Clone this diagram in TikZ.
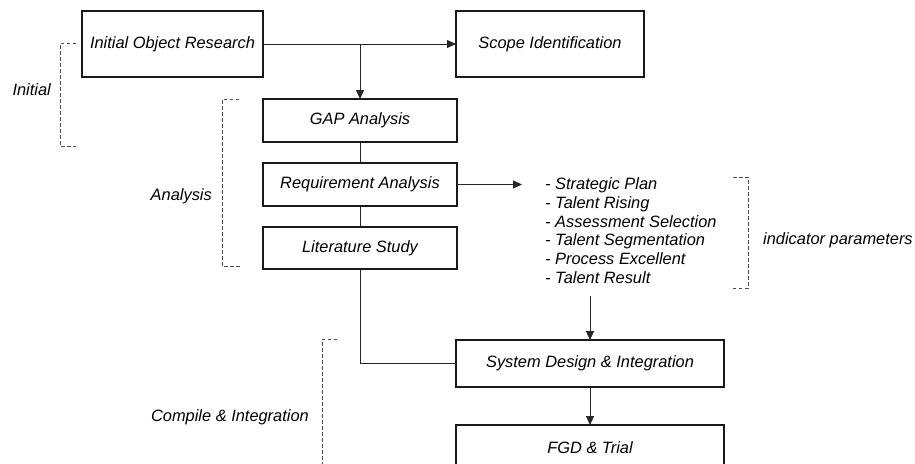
\documentclass[tikz,border=0pt]{standalone}
\usepackage{fontspec}
\setmainfont{Liberation Sans}
\usepackage{tikz}
\usetikzlibrary{positioning, arrows.meta, calc}
\tikzset{
  block/.style={rectangle, draw=black!90, line width=1.1pt, outer sep=0pt, align=center, font=\fontsize{16.4}{18.8}\selectfont\itshape},
  lbl/.style={inner sep=0pt, font=\fontsize{16.4}{18.8}\selectfont\itshape},
  arrow/.style={line width=0.9pt, draw=black!85, -{Triangle[length=9pt,width=8pt]}},
  line/.style={line width=1pt, draw=black!85},
  bracket/.style={line width=0.9pt, draw=black!70, dash pattern=on 3.5pt off 2.5pt}
}

\begin{document}
\begin{tikzpicture}[x=1pt, y=1pt]
        \useasboundingbox (0,0) rectangle (915,-463);
        \clip (0,0) rectangle (915,-463);

        % Top row
        \node (initres) [block, minimum width=181pt, minimum height=66pt] at (172.5,-44) {Initial Object Research};
        \node (scope) [block, minimum width=188pt, minimum height=66pt, right=193pt of initres] {Scope Identification};

        % Analysis column
        \node (gap) [block, minimum width=194pt, minimum height=43pt, anchor=north west] at ($(initres.south east)+(0,-22)$) {GAP Analysis};
        \node (req) [block, minimum width=194pt, minimum height=43pt, below=21pt of gap] {Requirement Analysis};
        \node (lit) [block, minimum width=194pt, minimum height=42pt, below=21pt of req] {Literature Study};

        % Indicator list
        \node (params) [lbl, align=left, anchor=north west] at (545,-177.5) {- Strategic Plan\\- Talent Rising\\- Assessment Selection\\- Talent Segmentation\\- Process Excellent\\- Talent Result};

        % Design and trial
        \node (sysd) [block, minimum width=268pt, minimum height=47pt] at (590,-363.5) {System Design \& Integration};
        \node (fgd) [block, minimum width=268pt, minimum height=46pt, below=38pt of sysd] {FGD \& Trial};

        % Connections
        \draw [arrow] (initres.east) -- (scope.west);
        \draw [arrow] (initres.east -| gap.north) -- (gap.north);
        \draw [line] (gap) -- (req);
        \draw [line] (req) -- (lit);
        \draw [arrow, shorten >=23pt] (req.east) -- (req.east -| params.west);
        \draw [arrow] ([yshift=-12pt]params.south -| sysd.north) -- (sysd.north);
        \draw [line] (lit.south) |- (sysd.west);
        \draw [arrow] (sysd) -- (fgd);

        % Stage brackets
        \draw [bracket] (76,-43) -| (60,-146) -- (76,-146);
        \node (initlbl) [lbl, anchor=east] at (51,-90) {Initial};
        \draw [bracket] (239,-99) -| (222,-266) -- (240,-266);
        \node (analbl) [lbl, anchor=east] at (212,-196) {Analysis};
        \draw [bracket] (733,-177) -| (748,-288) -- (733,-288);
        \node (paramlbl) [lbl, anchor=west] at (763,-240) {indicator parameters};
        \draw [bracket] (337,-339) -| (322,-475);
        \node (complbl) [lbl, anchor=east] at (309,-417) {Compile \& Integration};

\end{tikzpicture}
\end{document}
